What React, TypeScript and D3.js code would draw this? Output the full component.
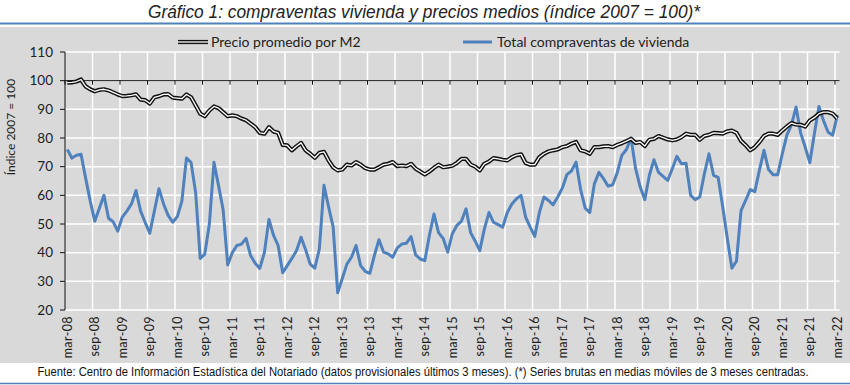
import React from "react";
import * as d3 from "d3";

// etiquetas del eje X (cada 6 meses)
const tickLabels = [
  "mar-08", "sep-08", "mar-09", "sep-09", "mar-10", "sep-10", "mar-11", "sep-11",
  "mar-12", "sep-12", "mar-13", "sep-13", "mar-14", "sep-14", "mar-15", "sep-15",
  "mar-16", "sep-16", "mar-17", "sep-17", "mar-18", "sep-18", "mar-19", "sep-19",
  "mar-20", "sep-20", "mar-21", "sep-21", "mar-22",
];

const yTicks = [20, 30, 40, 50, 60, 70, 80, 90, 100, 110];

// Precio promedio por M2 (mensual, mar-08 .. mar-22)
const precioM2 = [
  99.3, 99.4, 99.7, 100.4, 98, 97, 96.3, 96.8, 97, 96.6, 95.9, 95.2,
  94.6, 94.7, 94.9, 95.2, 93.4, 93.2, 92, 94.2, 94.6, 95.2, 95.3, 94.1,
  93.9, 93.7, 95.2, 94.2, 91.4, 88.5, 87.6, 89.6, 91, 90.4, 89, 87.6,
  87.9, 87.6, 86.8, 86.2, 85, 83.8, 81.8, 81.5, 83.8, 82.3, 81.8, 77.6,
  77.4, 75.7, 77.1, 78.3, 75.7, 74.5, 73.1, 74.8, 75.2, 72.2, 69.8, 68.7,
  69, 70.7, 70.4, 71.6, 70.7, 69.5, 69, 69, 69.8, 70.7, 71, 71.6,
  70.2, 70.4, 70.2, 71, 69.3, 68.3, 67.3, 68.3, 69.6, 70.7, 69.8, 70,
  70.3, 71.3, 72.7, 72.7, 70.7, 70, 68.7, 71, 71.8, 73, 72.7, 72.4,
  72.2, 73.3, 74, 74.3, 71.3, 70.7, 70.7, 73.3, 74.5, 75.3, 75.7, 76,
  76.8, 77.2, 78, 78.6, 75.7, 75.3, 74.5, 76.8, 76.8, 77.1, 77.2, 76.8,
  77.6, 78.2, 78.9, 79.7, 78.3, 78.6, 77.2, 79.4, 79.7, 80.7, 80.1, 79.5,
  79.2, 79.5, 80.3, 81.5, 81.1, 81.1, 79.4, 80.7, 81.1, 81.8, 81.7, 81.5,
  82.3, 82.6, 81.8, 79, 77.5, 75.7, 76.8, 78.6, 80.7, 81.5, 81.5, 81.1,
  82.6, 84, 85.2, 84.7, 84.6, 84, 86.1, 87.1, 88.5, 89, 89, 88.5,
  86.8,
];

// Total compraventas de vivienda (mensual, mar-08 .. mar-22)
const compraventas = [
  76, 73, 74, 74.3, 66, 58, 51, 55.5, 60, 52, 50.8, 47.5,
  52.4, 54.5, 57, 61.7, 54.5, 50.5, 46.8, 54.5, 62.3, 57, 53, 50.6,
  52.5, 58, 73, 71.5, 61, 38, 39.5, 50, 71.5, 63.4, 55, 35.7,
  40, 42.5, 43, 45, 39, 36.3, 34.5, 40, 51.6, 46, 42.5, 33,
  35.5, 38, 40.7, 45.4, 41, 36, 34.6, 41.3, 63.5, 56, 49, 26,
  31, 36, 38.4, 42.5, 35.5, 33.5, 32.8, 39, 44.5, 40.2, 39.6, 38.4,
  41.7, 43, 43.3, 45.6, 39.2, 37.8, 37.2, 46, 53.5, 47, 45, 40.2,
  46.6, 49.5, 51, 55.3, 47, 44, 40.7, 48.3, 54, 50.6, 49.8, 48.9,
  54, 57, 58.8, 60, 52.4, 48.9, 45.7, 54, 59.4, 58.2, 56.7, 59.4,
  62.5, 67.2, 68.5, 71.6, 62, 55.5, 54, 64, 68, 65.8, 63.2, 63.7,
  68, 74, 76, 80, 69.3, 62.9, 58.5, 67, 72.4, 68, 66.6, 65.2,
  69.3, 73.6, 71, 71.2, 60, 58.5, 59.4, 67.5, 74.5, 67, 66.3, 56,
  45, 34.6, 37, 54.7, 58.2, 62, 61.3, 68.7, 75.7, 69, 67.2, 67.2,
  74.5, 81, 84.6, 90.8, 81.8, 76.8, 71.4, 81.5, 91, 86, 82, 81,
  88,
];

const BLUE = "#4f81bd";
const GREY = "#d9d9d9";
const SANS = "Lato, 'Open Sans', sans-serif";
const NARROW = "'Liberation Sans Narrow', 'Arial Narrow', 'Liberation Sans', sans-serif";

export default function App() {
  const n = precioM2.length;
  const step = 770 / 168;
  const x = d3.scaleLinear().domain([0, n]).range([65, 65 + n * step]);
  const y = d3.scaleLinear().domain([20, 110]).range([310, 52]);
  const left = x(0);
  const right = x(n);

  const line = d3
    .line<number>()
    .x((_, i) => x(i + 0.5))
    .y((d) => y(d));

  return (
    <svg
      width={850}
      height={385}
      style={{ position: "absolute", left: 0, top: 0, display: "block" }}
    >
      <rect x={0} y={0} width={850} height={385} fill="#fff" />
      <text
        x={424}
        y={18}
        textAnchor="middle"
        fontFamily={NARROW}
        fontStyle="italic"
        fontSize={18}
        textLength={552}
        lengthAdjust="spacingAndGlyphs"
        fill="#222"
      >
        Gráfico 1: compraventas vivienda y precios medios (índice 2007 = 100)*
      </text>
      <line x1={0} x2={850} y1={23.5} y2={23.5} stroke={BLUE} strokeWidth={2} />
      <rect x={0} y={27} width={850} height={336} fill={GREY} />

      {/* rejilla */}
      {yTicks.map((t) => (
        <line key={`h${t}`} x1={left} x2={right} y1={y(t)} y2={y(t)} stroke="#fff" strokeWidth={1.5} />
      ))}
      {tickLabels.map((_, k) =>
        k === 0 ? null : (
          <line key={`v${k}`} x1={x(k * 6)} x2={x(k * 6)} y1={y(110)} y2={y(20)} stroke="#fff" strokeWidth={1.5} />
        )
      )}

      {/* eje X cruzando en 100 */}
      <line x1={left} x2={right} y1={y(100)} y2={y(100)} stroke="#111" strokeWidth={1} />
      {tickLabels.map((_, k) => (
        <line key={`xt${k}`} x1={x(k * 6)} x2={x(k * 6)} y1={y(100)} y2={y(100) + 4} stroke="#111" />
      ))}

      {/* eje Y */}
      <line x1={left} x2={left} y1={y(110)} y2={y(20)} stroke="#111" />
      {yTicks.map((t) => (
        <g key={`yt${t}`}>
          <line x1={left - 5} x2={left} y1={y(t)} y2={y(t)} stroke="#111" />
          <text x={53} y={y(t)} dy="0.35em" textAnchor="end" fontFamily={SANS} fontSize={13.5} fill="#222">
            {t}
          </text>
        </g>
      ))}
      <text
        transform={`translate(15, 127) rotate(-90)`}
        textAnchor="middle"
        fontFamily={SANS}
        fontSize={12}
        fill="#222"
      >
        Índice 2007 = 100
      </text>

      {tickLabels.map((lab, k) => (
        <text
          key={lab}
          transform={`translate(${x(k * 6 + 0.5)}, 316) rotate(-90)`}
          textAnchor="end"
          dy="0.35em"
          fontFamily={SANS}
          fontSize={12.5}
          letterSpacing={0.4}
          fill="#222"
        >
          {lab}
        </text>
      ))}

      {/* series */}
      <path d={line(compraventas) ?? ""} fill="none" stroke={BLUE} strokeWidth={3} strokeLinejoin="round" />
      <path d={line(precioM2) ?? ""} fill="none" stroke="#111" strokeWidth={4.2} strokeLinejoin="round" />
      <path d={line(precioM2) ?? ""} fill="none" stroke="#fff" strokeWidth={1.3} strokeLinejoin="round" />

      {/* leyenda */}
      <line x1={178} x2={208} y1={42} y2={42} stroke="#111" strokeWidth={4.2} />
      <line x1={178} x2={208} y1={42} y2={42} stroke="#fff" strokeWidth={1.3} />
      <text x={211} y={42} dy="0.35em" fontFamily={SANS} fontSize={14} fill="#222">
        Precio promedio por M2
      </text>
      <line x1={463} x2={492} y1={42} y2={42} stroke={BLUE} strokeWidth={3} />
      <text x={497} y={42} dy="0.35em" fontFamily={SANS} fontSize={14} fill="#222">
        Total compraventas de vivienda
      </text>

      {/* pie */}
      <text
        x={423}
        y={376}
        textAnchor="middle"
        fontFamily={NARROW}
        fontSize={12}
        textLength={771}
        lengthAdjust="spacingAndGlyphs"
        fill="#111"
      >
        Fuente: Centro de Información Estadística del Notariado (datos provisionales últimos 3 meses). (*) Series brutas en medias móviles de 3 meses centradas.
      </text>
      <line x1={0} x2={850} y1={383.5} y2={383.5} stroke={BLUE} strokeWidth={1.5} />
    </svg>
  );
}
